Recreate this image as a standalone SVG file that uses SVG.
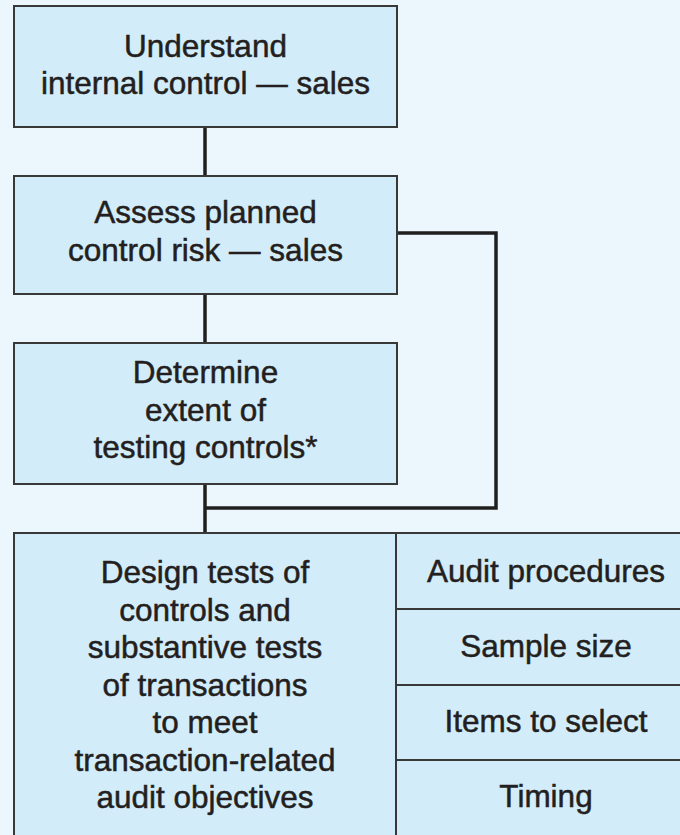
<svg xmlns="http://www.w3.org/2000/svg" width="680" height="835" viewBox="0 0 680 835">
<style>
.bg{fill:#ecf6fd}
.box{fill:#d3ecfa;stroke:#383838;stroke-width:2}
.conn{fill:none;stroke:#1f1f1f;stroke-width:3.5}
text{font-family:"Liberation Sans",Arial,sans-serif;font-size:31.5px;fill:#231f20;stroke:#231f20;stroke-width:0.5;text-anchor:middle}
</style>
<rect class="bg" x="0" y="0" width="680" height="835"/>
<g id="connectors">
<line class="conn" x1="205" y1="127" x2="205" y2="176"/>
<line class="conn" x1="205" y1="294" x2="205" y2="343"/>
<line class="conn" x1="205" y1="484" x2="205" y2="533"/>
<path class="conn" d="M397,233 H496 V508 H205"/>
</g>
<g id="understand">
<rect class="box" x="14" y="6" width="383" height="121"/>
<text x="205.5" y="57">Understand</text>
<text x="205.5" y="94">internal control — sales</text>
</g>
<g id="assess">
<rect class="box" x="14" y="176" width="383" height="118"/>
<text x="205.5" y="223">Assess planned</text>
<text x="205.5" y="261">control risk — sales</text>
</g>
<g id="determine">
<rect class="box" x="14" y="343" width="383" height="141"/>
<text x="205.5" y="383">Determine</text>
<text x="205.5" y="420.5">extent of</text>
<text x="205.5" y="458">testing controls*</text>
</g>
<g id="design">
<rect class="box" x="14" y="533" width="382" height="312"/>
<text x="205" y="583">Design tests of</text>
<text x="205" y="620.5">controls and</text>
<text x="205" y="658">substantive tests</text>
<text x="205" y="695.5">of transactions</text>
<text x="205" y="733">to meet</text>
<text x="205" y="770.5">transaction-related</text>
<text x="205" y="808">audit objectives</text>
</g>
<g id="audit-procedures">
<rect class="box" x="396" y="533" width="300" height="76"/>
<text x="546" y="582">Audit procedures</text>
</g>
<g id="sample-size">
<rect class="box" x="396" y="609" width="300" height="76"/>
<text x="546" y="657">Sample size</text>
</g>
<g id="items-to-select">
<rect class="box" x="396" y="685" width="300" height="75"/>
<text x="546" y="732">Items to select</text>
</g>
<g id="timing">
<rect class="box" x="396" y="760" width="300" height="85"/>
<text x="546" y="807">Timing</text>
</g>
</svg>
